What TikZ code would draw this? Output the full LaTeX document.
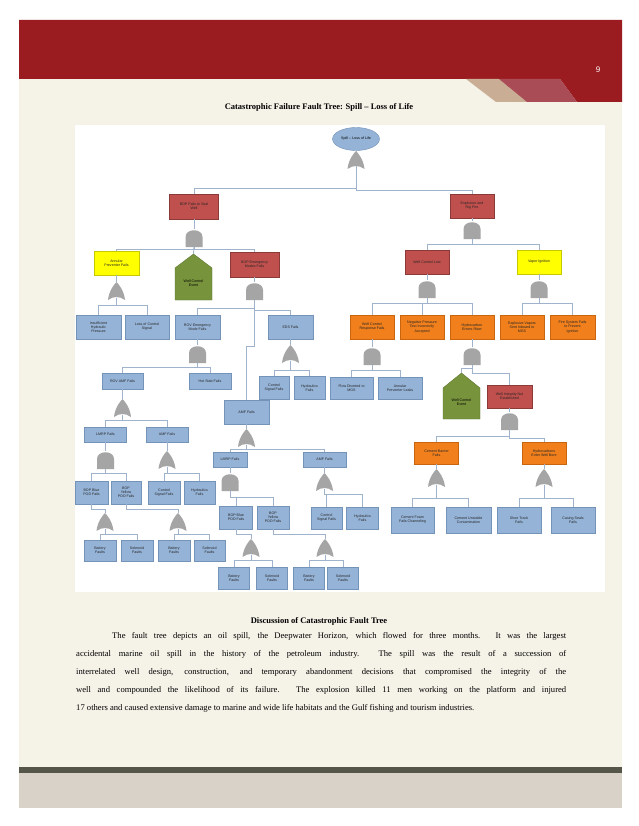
\documentclass[tikz,border=0pt]{standalone}
\usepackage{fontspec}
\usetikzlibrary{shapes.geometric}
\setmainfont{Liberation Serif}
\newfontfamily\arialf{Liberation Sans}
\definecolor{bxf}{HTML}{95B3D7}
\definecolor{bxd}{HTML}{7393B8}
\definecolor{redf}{HTML}{C0504D}
\definecolor{redd}{HTML}{8C3A38}
\definecolor{orf}{HTML}{F07F1C}
\definecolor{ord}{HTML}{C8650F}
\definecolor{yef}{HTML}{FFFF00}
\definecolor{yed}{HTML}{C8C800}
\definecolor{grf}{HTML}{77933C}
\definecolor{grd}{HTML}{5E752F}
\definecolor{gatef}{HTML}{A5A5A5}
\definecolor{lnc}{HTML}{A0B3CC}
\definecolor{bandred}{HTML}{9B1C20}
\definecolor{cream}{HTML}{F5F2E8}
\definecolor{tanc}{HTML}{C9AE95}
\definecolor{pinkc}{HTML}{A94C55}
\definecolor{footd}{HTML}{55554A}
\definecolor{footg}{HTML}{D8D2C8}
\tikzset{
 ln/.style={draw=lnc, line width=0.9pt},
 bx/.style={draw=bxd, fill=bxf, line width=0.4pt, inner sep=0.5pt, align=center, font=\arialf\fontsize{3.6}{4.1}\selectfont, text=black!85},
 redb/.style={draw=redd, fill=redf},
 orb/.style={draw=ord, fill=orf},
 yeb/.style={draw=yed, fill=yef},
 blb/.style={}
}
\newcommand{\BX}[7]{\node[bx,#6,minimum width=#4pt,minimum height=#5pt] (#1) at (#2,#3) {#7};}
\newcommand{\AG}[3]{%
 \fill[gatef] ({#2-8.5},{#3+18}) -- ({#2-8.5},{#3+8}) .. controls ({#2-8.5},{#3-1}) and ({#2+8.5},{#3-1}) .. ({#2+8.5},{#3+8}) -- ({#2+8.5},{#3+18}) -- cycle;
 \coordinate (#1-in) at (#2,#3); \coordinate (#1) at (#2,{#3+18});}
\newcommand{\OG}[3]{%
 \fill[gatef] ({#2-8.5},{#3+18}) .. controls ({#2-7.5},{#3+9}) and ({#2-3},{#3+3}) .. (#2,#3) .. controls ({#2+3},{#3+3}) and ({#2+7.5},{#3+9}) .. ({#2+8.5},{#3+18}) .. controls ({#2+3},{#3+14}) and ({#2-3},{#3+14}) .. cycle;
 \coordinate (#1-in) at (#2,#3); \coordinate (#1) at (#2,{#3+15.5});}
\newcommand{\CN}[3]{\draw[ln] (#1) -- (#1 |- 0,#2) -| (#3.north);}
\newcommand{\UP}[2]{\draw[ln] (#1.south) -- (#2-in);}
\newcommand{\UPB}[2]{\draw[ln] (#1.south) -- ++(0,5) -| (#2-in);}
\begin{document}
\begin{tikzpicture}[x=1pt,y=-1pt]
\useasboundingbox (0,0) rectangle (638,826);
\fill[white] (0,0) rectangle (638,826);
% page
\fill[cream] (19,79) rectangle (622,767);
\fill[bandred] (19,20) -- (622,20) -- (622,102) -- (577,102) -- (560,79) -- (19,79) -- cycle;
\fill[tanc] (466,79) -- (499,79) -- (527,102) -- (496,102) -- cycle;
\fill[pinkc] (499,79) -- (560,79) -- (577,102) -- (527,102) -- cycle;
\fill[footd] (19,767) rectangle (622,773);
\fill[footg] (19,773) rectangle (622,808);
\node[text=white, font=\arialf\fontsize{8}{9}\selectfont] (pg) at (598,70) {9};
\node[font=\bfseries\fontsize{8.5}{10}\selectfont] (title) at (319,107) {Catastrophic Failure Fault Tree: Spill -- Loss of Life};
\fill[white] (75,125) rectangle (605,592);
% top
\node[draw=bxd, fill=bxf, ellipse, minimum width=47pt, minimum height=23pt, inner sep=0pt, font=\arialf\fontsize{3.6}{4.1}\selectfont] (spill) at (356,139) {Spill -- Loss of Life};
\OG{gTop}{356}{151}
\draw[ln] (spill.south) -- (gTop-in);
\BX{bop}{194}{206.5}{49}{25}{redb}{BOP Fails to Seal\\Well}
\BX{expl}{472}{206}{44}{24}{redb}{Explosion and\\Rig Fire}
\CN{gTop}{188}{bop}
\CN{gTop}{190}{expl}
% left branch
\AG{gBop}{194}{229}
\UP{bop}{gBop}
\BX{ann}{116.5}{263}{45}{24}{yeb}{Annular\\Preventer Fails}
\fill[grf, draw=grd, line width=0.4pt] (175,300) -- (175,268) -- (193.5,254) -- (212,268) -- (212,300) -- cycle;
\coordinate (wce1) at (193.5,254);
\node[font=\arialf\fontsize{3.6}{4.1}\selectfont, align=center] (wce1t) at (193.5,283) {Well Control\\Event};
\BX{bopem}{254.5}{264.5}{49}{25}{redb}{BOP Emergency\\Modes Fails}
\CN{gBop}{249}{ann}
\draw[ln] (gBop) -- (wce1);
\CN{gBop}{249}{bopem}
\OG{gAnn}{116.5}{282}
\UP{ann}{gAnn}
\BX{ins}{98.5}{327}{45}{24}{blb}{Insufficient\\Hydraulic\\Pressure}
\BX{loc}{147}{327}{44}{24}{blb}{Loss of Control\\Signal}
\CN{gAnn}{305}{ins}
\CN{gAnn}{305}{loc}
\AG{gEm}{254.5}{282}
\UP{bopem}{gEm}
\BX{rov}{197.5}{327}{45}{24}{blb}{ROV Emergency\\Mode Fails}
\BX{eds}{290.5}{327}{45}{24}{blb}{EDS Fails}
\BX{amfm}{246.5}{412}{45}{24}{blb}{AMF Fails}
\CN{gEm}{308}{rov}
\CN{gEm}{310}{eds}
\CN{gEm}{346}{amfm}
\AG{gRov}{197.5}{345}
\UP{rov}{gRov}
\BX{rovamf}{122.5}{381}{41}{16}{blb}{ROV AMF Fails}
\BX{hot}{210}{381}{42}{16}{blb}{Hot Stab Fails}
\CN{gRov}{367}{rovamf}
\CN{gRov}{367}{hot}
\OG{gEds}{290.5}{345}
\UP{eds}{gEds}
\BX{csf1}{274}{388}{30}{23}{blb}{Control\\Signal Fails}
\BX{hyd1}{309.5}{388}{31}{23}{blb}{Hydraulics\\Fails}
\CN{gEds}{370}{csf1}
\CN{gEds}{370}{hyd1}
\OG{gRa}{122.5}{399}
\UP{rovamf}{gRa}
\BX{lm1}{105.5}{434.5}{42}{15}{blb}{LMRP Fails}
\BX{am1}{167}{434.5}{42}{15}{blb}{AMF Fails}
\CN{gRa}{420}{lm1}
\CN{gRa}{420}{am1}
\AG{gLm1}{105.5}{451}
\UP{lm1}{gLm1}
\OG{gAm1}{167}{451}
\UP{am1}{gAm1}
\BX{blue1}{91.5}{492.5}{33}{23}{blb}{BOP Blue\\POD Fails}
\BX{yel1}{126}{492.5}{30}{23}{blb}{BOP\\Yellow\\POD Fails}
\BX{csf2}{164}{492.5}{32}{23}{blb}{Control\\Signal Fails}
\BX{hyd2}{199.5}{492.5}{31}{23}{blb}{Hydraulics\\Fails}
\CN{gLm1}{473}{blue1}
\CN{gLm1}{473}{yel1}
\CN{gAm1}{473}{csf2}
\CN{gAm1}{473}{hyd2}
\OG{gB1}{105}{513}
\UPB{blue1}{gB1}
\OG{gY1}{178}{513}
\UPB{yel1}{gY1}
\BX{bat1}{100}{550.5}{32}{21}{blb}{Battery\\Faults}
\BX{sol1}{137}{550.5}{32}{21}{blb}{Solenoid\\Faults}
\BX{bat2}{174}{550.5}{32}{21}{blb}{Battery\\Faults}
\BX{sol2}{209.5}{550.5}{31}{21}{blb}{Solenoid\\Faults}
\CN{gB1}{534}{bat1}
\CN{gB1}{534}{sol1}
\CN{gY1}{534}{bat2}
\CN{gY1}{534}{sol2}
% middle
\OG{gAmfm}{246.5}{429}
\UP{amfm}{gAmfm}
\BX{lm2}{230}{459.5}{34}{15}{blb}{LMRP Fails}
\BX{am2}{324.5}{459.5}{43}{15}{blb}{AMF Fails}
\CN{gAmfm}{449}{lm2}
\CN{gAmfm}{449}{am2}
\AG{gLm2}{230}{473}
\UP{lm2}{gLm2}
\OG{gAm2}{324.5}{473}
\UP{am2}{gAm2}
\BX{blue2}{236}{517.5}{33}{23}{blb}{BOP Blue\\POD Fails}
\BX{yel2}{273}{517.5}{32}{23}{blb}{BOP\\Yellow\\POD Fails}
\BX{csf3}{326.5}{518}{31}{22}{blb}{Control\\Signal Fails}
\BX{hyd3}{362.5}{518}{32}{22}{blb}{Hydraulics\\Fails}
\CN{gLm2}{497}{blue2}
\CN{gLm2}{497}{yel2}
\CN{gAm2}{494}{csf3}
\CN{gAm2}{494}{hyd3}
\OG{gB2}{251}{539}
\UPB{blue2}{gB2}
\OG{gY2}{325}{539}
\UPB{yel2}{gY2}
\BX{bat3}{234}{578.5}{31}{22}{blb}{Battery\\Faults}
\BX{sol3}{272}{578.5}{31}{22}{blb}{Solenoid\\Faults}
\BX{bat4}{309}{578.5}{31}{22}{blb}{Battery\\Faults}
\BX{sol4}{343}{578.5}{31}{22}{blb}{Solenoid\\Faults}
\CN{gB2}{560}{bat3}
\CN{gB2}{560}{sol3}
\CN{gY2}{560}{bat4}
\CN{gY2}{560}{sol4}
% right branch
\AG{gExp}{472}{221}
\UP{expl}{gExp}
\BX{wcl}{427}{262}{44}{24}{redb}{Well Control Lost}
\BX{vap}{539}{262}{44}{24}{yeb}{Vapor Ignition}
\CN{gExp}{244}{wcl}
\CN{gExp}{244}{vap}
\AG{gWcl}{427}{280}
\UP{wcl}{gWcl}
\AG{gVap}{539}{280}
\UP{vap}{gVap}
\BX{wcr}{372}{327}{44}{24}{orb}{Well Control\\Response Fails}
\BX{npt}{422}{327}{44}{24}{orb}{Negative Pressure\\Test Incorrectly\\Accepted}
\BX{her}{472}{327}{44}{24}{orb}{Hydrocarbon\\Enters Riser}
\BX{evs}{522}{327}{44}{24}{orb}{Explosive Vapors\\Sent Inboard to\\MGS}
\BX{fsf}{572.5}{327}{45}{24}{orb}{Fire System Fails\\to Prevent\\Ignition}
\CN{gWcl}{303}{wcr}
\CN{gWcl}{303}{npt}
\CN{gWcl}{303}{her}
\CN{gVap}{303}{evs}
\CN{gVap}{303}{fsf}
\AG{gWcr}{372}{347}
\UP{wcr}{gWcr}
\BX{flow}{351.5}{388}{43}{22}{blb}{Flow Diverted to\\MGS}
\BX{apl}{400}{388}{44}{22}{blb}{Annular\\Preventer Leaks}
\CN{gWcr}{370}{flow}
\CN{gWcr}{370}{apl}
\AG{gHer}{472}{347}
\UP{her}{gHer}
\fill[grf, draw=grd, line width=0.4pt] (443,419) -- (443,388) -- (461.5,373) -- (480,388) -- (480,419) -- cycle;
\coordinate (wce2) at (461.5,373);
\node[font=\arialf\fontsize{3.6}{4.1}\selectfont, align=center] (wce2t) at (461.5,402) {Well Control\\Event};
\BX{win}{509.5}{396.5}{45}{23}{redb}{Well Integrity Not\\Established}
\draw[ln] (gHer) -- (gHer |- 0,368) -| (wce2);
\CN{gHer}{373}{win}
\AG{gWin}{509.5}{412}
\UP{win}{gWin}
\BX{cbf}{436.5}{453}{44}{22}{orb}{Cement Barrier\\Fails}
\BX{hewb}{544}{453}{44}{22}{orb}{Hydrocarbons\\Enter Well Bore}
\CN{gWin}{436}{cbf}
\CN{gWin}{438}{hewb}
\OG{gCb}{436.5}{469}
\UP{cbf}{gCb}
\OG{gHe}{544}{469}
\UP{hewb}{gHe}
\BX{cff}{412.5}{520}{43}{26}{blb}{Cement Foam\\Fails Channeling}
\BX{cuc}{468.5}{520}{45}{26}{blb}{Cement Unstable\\Contamination}
\BX{stf}{519}{520}{44}{26}{blb}{Shoe Track\\Fails}
\BX{csl}{573}{520}{44}{26}{blb}{Casing Seals\\Fails}
\CN{gCb}{498}{cff}
\CN{gCb}{498}{cuc}
\CN{gHe}{498}{stf}
\CN{gHe}{498}{csl}
% text
\node[font=\bfseries\fontsize{8.5}{10}\selectfont] (disc) at (319,621) {Discussion of Catastrophic Fault Tree};
\node[anchor=north west, text width=490pt, align=justify, inner sep=0pt, font=\fontsize{8.6}{18}\selectfont] (para) at (76,632) {\hspace*{36pt}The fault tree depicts an oil spill, the Deepwater Horizon, which flowed for three months. It was the largest\linebreak accidental marine oil spill in the history of the petroleum industry. The spill was the result of a succession of\linebreak interrelated well design, construction, and temporary abandonment decisions that compromised the integrity of the\linebreak well and compounded the likelihood of its failure. The explosion killed 11 men working on the platform and injured\linebreak 17 others and caused extensive damage to marine and wide life habitats and the Gulf fishing and tourism industries.};
\end{tikzpicture}
\end{document}
